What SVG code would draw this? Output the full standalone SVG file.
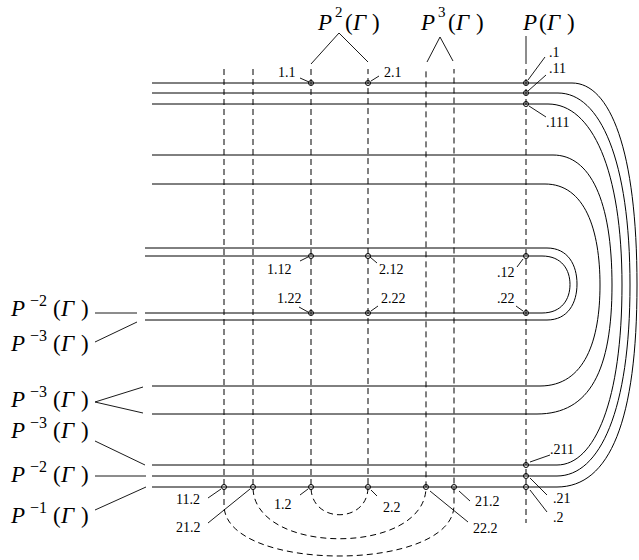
<svg xmlns="http://www.w3.org/2000/svg" width="639" height="560" viewBox="0 0 639 560">
<style>
.ln{fill:none;stroke:#000;stroke-width:1}
.ds{fill:none;stroke:#000;stroke-width:1;stroke-dasharray:6,4}
.ld{fill:none;stroke:#000;stroke-width:0.9}
.pt{fill:none;stroke:#000;stroke-width:1}
.it{font-style:italic}
</style>
<rect width="639" height="560" fill="#fff"/>
<g id="connectors">
  <g id="strands">
    <path class="ln" d="M152,83 H572 C610,83 637,150 637,285 C637,420 610,487 557,487 H152"/>
    <path class="ln" d="M152,93 H558 C600,93 630,160 630,285 C630,410 600,476 557,476 H152"/>
    <path class="ln" d="M152,104 H548 C592,104 622,170 622,285 C622,400 595,465 557,465 H152"/>
    <path class="ln" d="M152,155 H553 C590,155 612,200 612,285 C612,370 590,414 537,414 H152"/>
    <path class="ln" d="M152,184 H545 C585,184 600,230 600,285 C600,340 585,386 540,386 H152"/>
    <path class="ln" d="M145,248 H547 C568,248 577,265 577,284 C577,303 568,320 547,320 H145"/>
    <path class="ln" d="M145,256 H542 C562,256 570,270 570,284.5 C570,299 562,313 542,313 H145"/>
  </g>
  <g id="dashed">
    <path class="ds" d="M224,69 V505 C224,573 454,573 454,505 V69"/>
    <path class="ds" d="M253,69 V487 C253,556 426,556 426,487 V69"/>
    <path class="ds" d="M311,69 V487 C311,524 368,524 368,487 V69"/>
    <path class="ds" d="M526,69 V523"/>
  </g>
  <g id="leaders">
    <path class="ld" d="M311,64 L339,33 L368,62"/>
    <path class="ld" d="M427,62 L440,37 L453,61"/>
    <path class="ld" d="M526,36 V64"/>
    <path class="ld" d="M95,313 H137"/>
    <path class="ld" d="M95,342 L137,322"/>
    <path class="ld" d="M143,387 L95,402 L143,413"/>
    <path class="ld" d="M95,441 L145,465"/>
    <path class="ld" d="M95,476 H146"/>
    <path class="ld" d="M95,510 L146,487"/>
    <path class="ld" d="M300,78 L309,82"/>
    <path class="ld" d="M371,81 L379,76"/>
    <path class="ld" d="M528,80 L545,57"/>
    <path class="ld" d="M528,91 L546,75"/>
    <path class="ld" d="M529,106 L546,117"/>
    <path class="ld" d="M300,261 L308,257"/>
    <path class="ld" d="M370,257 L377,263"/>
    <path class="ld" d="M517,267 L523,259"/>
    <path class="ld" d="M299,307 L308,312"/>
    <path class="ld" d="M371,311 L378,306"/>
    <path class="ld" d="M516,306 L523,311"/>
    <path class="ld" d="M208,498 L221,489"/>
    <path class="ld" d="M208,523 L250,489"/>
    <path class="ld" d="M300,495 L308,489"/>
    <path class="ld" d="M371,490 L377,496"/>
    <path class="ld" d="M459,491 L470,501"/>
    <path class="ld" d="M430,491 L468,522"/>
    <path class="ld" d="M530,462 L550,455"/>
    <path class="ld" d="M530,478 L547,495"/>
    <path class="ld" d="M530,490 L547,512"/>
  </g>
</g>
<g id="points">
  <circle class="pt" cx="311" cy="83" r="2.5"/>
  <circle class="pt" cx="368" cy="83" r="2.5"/>
  <circle class="pt" cx="526" cy="83" r="2.5"/>
  <circle class="pt" cx="526" cy="93" r="2.5"/>
  <circle class="pt" cx="526" cy="104" r="2.5"/>
  <circle class="pt" cx="311" cy="256" r="2.5"/>
  <circle class="pt" cx="368" cy="256" r="2.5"/>
  <circle class="pt" cx="526" cy="256" r="2.5"/>
  <circle class="pt" cx="311" cy="313" r="2.5"/>
  <circle class="pt" cx="368" cy="313" r="2.5"/>
  <circle class="pt" cx="526" cy="313" r="2.5"/>
  <circle class="pt" cx="526" cy="465" r="2.5"/>
  <circle class="pt" cx="526" cy="476" r="2.5"/>
  <circle class="pt" cx="526" cy="487" r="2.5"/>
  <circle class="pt" cx="224" cy="487" r="2.5"/>
  <circle class="pt" cx="253" cy="487" r="2.5"/>
  <circle class="pt" cx="311" cy="487" r="2.5"/>
  <circle class="pt" cx="368" cy="487" r="2.5"/>
  <circle class="pt" cx="426" cy="487" r="2.5"/>
  <circle class="pt" cx="454" cy="487" r="2.5"/>
</g>
<g id="big-labels" font-family="Liberation Serif" font-size="23" fill="#000">
  <g id="lbl-P2"><text><tspan class="it" x="318" y="30">P</tspan><tspan font-size="15" x="335" y="17">2</tspan><tspan x="345" y="30">(</tspan><tspan class="it" x="353" y="30">Γ</tspan><tspan x="372" y="30">)</tspan></text></g>
  <g id="lbl-P3"><text><tspan class="it" x="421" y="30">P</tspan><tspan font-size="15" x="438" y="17">3</tspan><tspan x="448" y="30">(</tspan><tspan class="it" x="456" y="30">Γ</tspan><tspan x="476" y="30">)</tspan></text></g>
  <g id="lbl-P1"><text><tspan class="it" x="523" y="30">P</tspan><tspan x="539" y="30">(</tspan><tspan class="it" x="547" y="30">Γ</tspan><tspan x="567" y="30">)</tspan></text></g>
  <g id="lbl-Pm2a"><text><tspan class="it" x="11" y="316">P</tspan><tspan font-size="16" x="30" y="306">−2</tspan><tspan x="53" y="316">(</tspan><tspan class="it" x="61" y="316">Γ</tspan><tspan x="81" y="316">)</tspan></text></g>
  <g id="lbl-Pm3a"><text><tspan class="it" x="11" y="351">P</tspan><tspan font-size="16" x="30" y="341">−3</tspan><tspan x="53" y="351">(</tspan><tspan class="it" x="61" y="351">Γ</tspan><tspan x="81" y="351">)</tspan></text></g>
  <g id="lbl-Pm3b"><text><tspan class="it" x="11" y="407">P</tspan><tspan font-size="16" x="30" y="397">−3</tspan><tspan x="53" y="407">(</tspan><tspan class="it" x="61" y="407">Γ</tspan><tspan x="81" y="407">)</tspan></text></g>
  <g id="lbl-Pm3c"><text><tspan class="it" x="11" y="438">P</tspan><tspan font-size="16" x="30" y="428">−3</tspan><tspan x="53" y="438">(</tspan><tspan class="it" x="61" y="438">Γ</tspan><tspan x="81" y="438">)</tspan></text></g>
  <g id="lbl-Pm2b"><text><tspan class="it" x="11" y="482">P</tspan><tspan font-size="16" x="30" y="472">−2</tspan><tspan x="53" y="482">(</tspan><tspan class="it" x="61" y="482">Γ</tspan><tspan x="81" y="482">)</tspan></text></g>
  <g id="lbl-Pm1"><text><tspan class="it" x="11" y="523">P</tspan><tspan font-size="16" x="30" y="513">−1</tspan><tspan x="53" y="523">(</tspan><tspan class="it" x="61" y="523">Γ</tspan><tspan x="81" y="523">)</tspan></text></g>
</g>
<g id="point-labels" font-family="Liberation Serif" font-size="14" fill="#000">
  <text x="278" y="77">1.1</text>
  <text x="384" y="77">2.1</text>
  <text x="549" y="57">.1</text>
  <text x="549" y="73">.11</text>
  <text x="546" y="127">.111</text>
  <text x="267" y="274">1.12</text>
  <text x="379" y="274">2.12</text>
  <text x="497" y="277">.12</text>
  <text x="277" y="303">1.22</text>
  <text x="381" y="303">2.22</text>
  <text x="497" y="303">.22</text>
  <text x="176" y="504">11.2</text>
  <text x="176" y="532">21.2</text>
  <text x="274" y="509">1.2</text>
  <text x="383" y="512">2.2</text>
  <text x="475" y="506">21.2</text>
  <text x="473" y="533">22.2</text>
  <text x="550" y="454">.211</text>
  <text x="553" y="503">.21</text>
  <text x="553" y="522">.2</text>
</g>
</svg>
